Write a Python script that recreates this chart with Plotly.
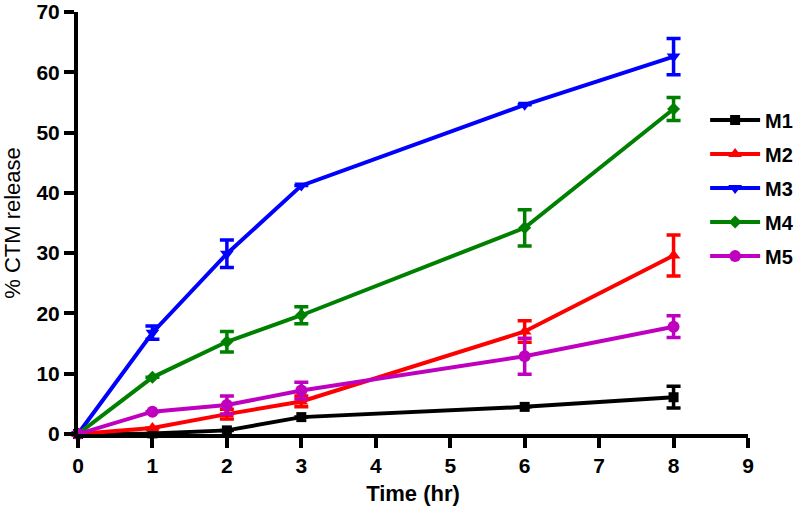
import plotly.graph_objects as go

time = [0, 1, 2, 3, 6, 8]
names = ["M1", "M2", "M3", "M4", "M5"]
m1 = [0, 0.1, 0.6, 2.8, 4.5, 6.1]
m2 = [0, 1.0, 3.3, 5.4, 17.0, 29.6]
m3 = [0, 16.8, 29.9, 41.2, 54.6, 62.6]
m4 = [0, 9.4, 15.3, 19.7, 34.2, 53.9]
m5 = [0, 3.7, 4.8, 7.2, 12.9, 17.8]
e1 = [None, None, None, None, None, 1.8]
e2 = [None, None, 0.8, 0.9, 1.8, 3.4]
e3 = [None, 1.1, 2.3, None, None, 3.0]
e4 = [None, None, 1.7, 1.4, 3.0, 1.9]
e5 = [None, None, 1.5, 1.4, 3.0, 1.8]

values = [m1, m2, m3, m4, m5]
errors = [e1, e2, e3, e4, e5]
colors = ["#000000", "#ff0000", "#0000ff", "#008000", "#bf00bf"]
symbols = ["square", "triangle-up", "triangle-down", "diamond", "circle"]
sizes = [10, 12, 12, 10, 12]

FF = "Liberation Sans, Arial, sans-serif"

fig = go.Figure()
for i in range(5):
    fig.add_trace(go.Scatter(
        x=time, y=values[i], name=names[i], mode="lines+markers",
        line=dict(color=colors[i], width=4),
        marker=dict(symbol=symbols[i], size=sizes[i], color=colors[i]),
        error_y=dict(type="data", array=errors[i], visible=True,
                     color=colors[i], thickness=3.5, width=7),
        legendgroup=names[i],
        cliponaxis=False,
    ))

fig.update_layout(
    width=799, height=506,
    margin=dict(l=78, r=51, t=12, b=72, autoexpand=False),
    paper_bgcolor="white", plot_bgcolor="white",
    font=dict(family=FF, color="black"),
    showlegend=True,
    legend=dict(x=0.936, y=0.79, xanchor="left", yanchor="top",
                font=dict(size=20, family=FF, color="black", weight="bold"),
                traceorder="grouped", tracegroupgap=5, itemwidth=50,
                bgcolor="rgba(0,0,0,0)"),
    xaxis=dict(range=[0, 9], tickvals=list(range(10)), showgrid=False, zeroline=False,
               showline=True, linecolor="black", linewidth=4, automargin=False,
               ticks="outside", ticklen=10, tickwidth=4, tickcolor="black",
               tickfont=dict(size=21, family=FF, color="black", weight="bold"),
               title=dict(text="Time (hr)", font=dict(size=22, weight="bold", family=FF, color="black"), standoff=10)),
    yaxis=dict(range=[0, 70], tickvals=list(range(0, 71, 10)), showgrid=False, zeroline=False,
               showline=True, linecolor="black", linewidth=4, automargin=False,
               ticks="outside", ticklen=10, tickwidth=4, tickcolor="black",
               tickfont=dict(size=21, family=FF, color="black", weight="bold"),
               title=dict(text="% CTM release", font=dict(size=22, family=FF, color="black"), standoff=14)),
)

post = ("document.body.style.margin='0';document.body.style.overflow='hidden';"
        "var gd=document.getElementById('{plot_id}');"
        "Plotly.relayout(gd,{width:799,height:506});")
fig.write_html("out.html", post_script=post, config={"displayModeBar": False})
